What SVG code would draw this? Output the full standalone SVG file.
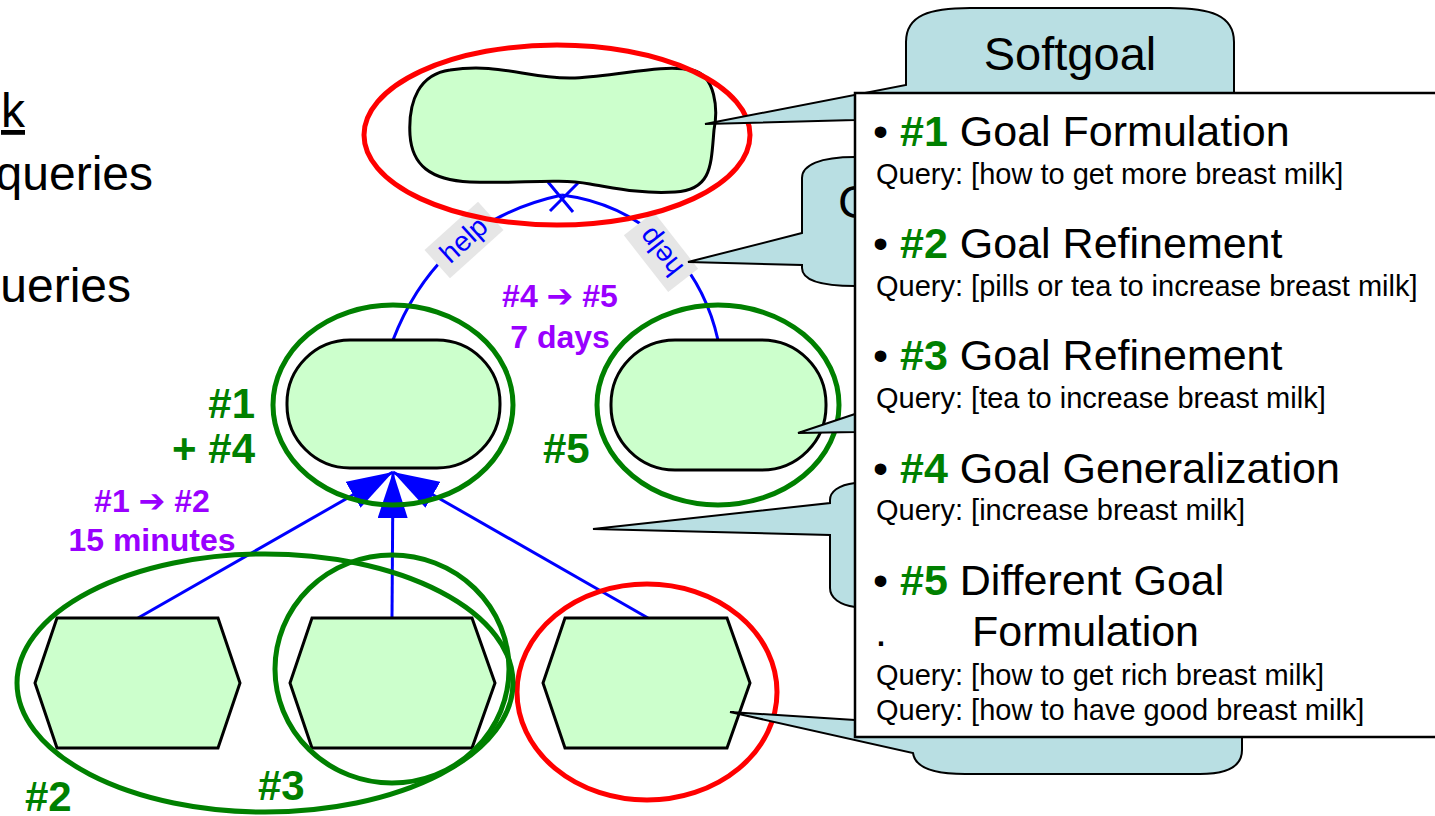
<svg xmlns="http://www.w3.org/2000/svg" width="1435" height="816" viewBox="0 0 1435 816">
  <style>
    .sans { font-family: "Liberation Sans", Arial, sans-serif; }
    .node { fill: #CCFFCC; stroke: #000; stroke-width: 3; }
    .ring-g { fill: none; stroke: #008000; stroke-width: 5; }
    .ring-r { fill: none; stroke: #FF0000; stroke-width: 5; }
    .link { fill: none; stroke: #0000FF; stroke-width: 3; }
    .callout { fill: #B9DFE3; stroke: #000; stroke-width: 2; stroke-linejoin: miter; }
    .tag { font-family: "Liberation Sans", Arial, sans-serif; font-weight: bold; font-size: 42px; fill: #008000; }
    .step { font-family: "Liberation Sans", "DejaVu Sans", Arial, sans-serif; font-weight: bold; font-size: 32px; fill: #9900FF; text-anchor: middle; }
    .help-bg { fill: #E6E6E6; }
    .help-tx { font-family: "Liberation Sans", Arial, sans-serif; font-size: 28px; fill: #0000FF; text-anchor: middle; }
    .head { font-family: "Liberation Sans", "DejaVu Sans", Arial, sans-serif; font-size: 43px; fill: #000; }
    .num { font-weight: bold; fill: #008000; }
    .query { font-family: "Liberation Sans", Arial, sans-serif; font-size: 29px; fill: #000; }
  </style>
  <defs>
    <marker id="arrow" markerUnits="userSpaceOnUse" markerWidth="46" markerHeight="30" viewBox="0 0 46 30" refX="46" refY="15" orient="auto">
      <path d="M0,0 L46,15 L0,30 z" fill="#0000FF"/>
    </marker>
  </defs>

  <rect width="1435" height="816" fill="#FFFFFF"/>

  <!-- slide text on the left edge -->
  <g id="side-text" class="sans" font-size="48" fill="#000">
    <text x="25" y="127" text-anchor="end" text-decoration="underline">k</text>
    <text x="153" y="190" text-anchor="end">queries</text>
    <text x="131" y="302" text-anchor="end">ueries</text>
  </g>

  <!-- connectors -->
  <g id="connectors">
    <line class="link" x1="138" y1="618" x2="393" y2="472" marker-end="url(#arrow)"/>
    <line class="link" x1="392" y1="618" x2="393" y2="472" marker-end="url(#arrow)"/>
    <line class="link" x1="648" y1="618" x2="393" y2="472" marker-end="url(#arrow)"/>
    <path class="link" d="M393,340 C420,270 470,215 562,195"/>
    <path class="link" d="M562,195 C640,205 700,260 718,340"/>
    <path class="link" d="M548,182 L573,212 M578,183 L550,211"/>
    <g transform="translate(464,240) rotate(-42)">
      <rect class="help-bg" x="-36" y="-19" width="72" height="38"/>
      <text class="help-tx" x="0" y="9">help</text>
    </g>
    <g transform="translate(661,252) rotate(232)">
      <rect class="help-bg" x="-36" y="-19" width="72" height="38"/>
      <text class="help-tx" x="0" y="9">help</text>
    </g>
  </g>

  <!-- softgoal -->
  <g id="softgoal">
    <path class="node" d="M450,70 C500,62 530,80 575,78 C620,76 660,64 692,70 C716,75 718,110 714,130 C711,165 712,190 675,192 C640,194 615,188 590,184 C555,178 520,184 470,182 C430,180 412,165 410,135 C408,100 420,74 450,70 Z"/>
    <ellipse class="ring-r" cx="557" cy="135" rx="193" ry="90"/>
  </g>

  <!-- goals -->
  <g id="goal-left">
    <rect class="node" x="287" y="340" width="213" height="128" rx="63"/>
    <ellipse class="ring-g" cx="393" cy="405" rx="120" ry="100"/>
  </g>
  <g id="goal-right">
    <rect class="node" x="611" y="340" width="215" height="130" rx="64"/>
    <ellipse class="ring-g" cx="718" cy="405" rx="121" ry="100"/>
  </g>

  <!-- tasks -->
  <g id="task-1">
    <polygon class="node" points="35,683 57,618 218,618 240,683 218,748 57,748"/>
  </g>
  <g id="task-2">
    <polygon class="node" points="290,683 312,618 472,618 495,683 472,748 312,748"/>
    <ellipse class="ring-g" cx="392" cy="669" rx="117" ry="114"/>
  </g>
  <g id="task-3">
    <polygon class="node" points="543,683 565,618 727,618 750,683 727,748 565,748"/>
    <ellipse class="ring-r" cx="647" cy="692" rx="130" ry="108"/>
  </g>
  <g id="task-group">
    <ellipse class="ring-g" cx="265" cy="683" rx="248" ry="129"/>
  </g>

  <!-- step labels -->
  <g id="labels">
    <text class="tag" x="255" y="418" text-anchor="end">#1</text>
    <text class="tag" x="255" y="463" text-anchor="end">+ #4</text>
    <text class="tag" x="543" y="463">#5</text>
    <text class="tag" x="25" y="811">#2</text>
    <text class="tag" x="258" y="800">#3</text>
    <text class="step" x="560" y="307">#4 ➔ #5</text>
    <text class="step" x="560" y="348">7 days</text>
    <text class="step" x="152" y="512">#1 ➔ #2</text>
    <text class="step" x="152" y="551">15 minutes</text>
  </g>

  <!-- callouts -->
  <g id="callout-softgoal">
    <path class="callout" d="M855,120 L705,124 L906,85 L906,42 C906,15 930,8 970,8 L1170,8 C1210,8 1234,15 1234,42 L1234,100 L855,100 Z"/>
    <text class="sans" x="1070" y="70" font-size="47" text-anchor="middle" fill="#000">Softgoal</text>
  </g>
  <g id="callout-goal">
    <path class="callout" d="M802,233 L688,262 L802,265 L802,268 C802,280 820,286 855,286 L900,286 L900,157 L855,157 C820,157 802,165 802,178 Z"/>
    <text class="sans" x="838" y="218" font-size="47" fill="#000">G</text>
  </g>
  <g id="callout-goal-2">
    <path class="callout" d="M855,414 L798,433 L855,432 Z"/>
  </g>
  <g id="callout-task">
    <path class="callout" d="M855,483 C838,485 830,492 830,500 L830,503 L593,529 L830,535 L830,588 C830,598 840,605 855,607 L880,607 L880,483 Z"/>
  </g>
  <g id="callout-task-2">
    <path class="callout" d="M855,720 L730,712 L913,753 C915,768 935,774 965,774 L1200,774 C1230,774 1242,765 1242,750 L1242,700 L855,700 Z"/>
  </g>

  <!-- reformulation list -->
  <g id="legend">
    <rect x="855" y="93" width="620" height="644" fill="#FFFFFF" stroke="#000" stroke-width="2.5"/>
    <text class="head" x="873" y="146">• <tspan class="num">#1</tspan> Goal Formulation</text>
    <text class="query" x="876" y="184">Query: [how to get more breast milk]</text>
    <text class="head" x="873" y="258">• <tspan class="num">#2</tspan> Goal Refinement</text>
    <text class="query" x="876" y="296">Query: [pills or tea to increase breast milk]</text>
    <text class="head" x="873" y="370">• <tspan class="num">#3</tspan> Goal Refinement</text>
    <text class="query" x="876" y="408">Query: [tea to increase breast milk]</text>
    <text class="head" x="873" y="483">• <tspan class="num">#4</tspan> Goal Generalization</text>
    <text class="query" x="876" y="520">Query: [increase breast milk]</text>
    <text class="head" x="873" y="595">• <tspan class="num">#5</tspan> Different Goal</text>
    <text class="head" x="875" y="646">.<tspan x="972">Formulation</tspan></text>
    <text class="query" x="876" y="685">Query: [how to get rich breast milk]</text>
    <text class="query" x="876" y="720">Query: [how to have good breast milk]</text>
  </g>
</svg>
